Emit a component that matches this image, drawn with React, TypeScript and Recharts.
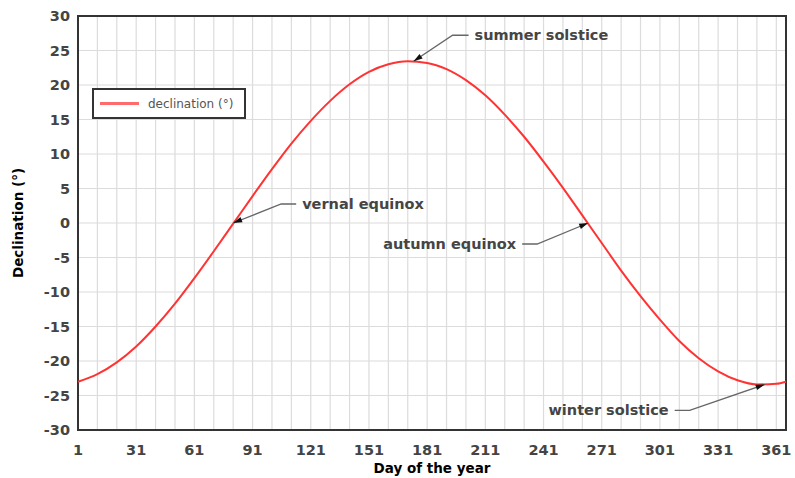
import React from 'react';
import { LineChart, Line, XAxis, YAxis, CartesianGrid, ReferenceArea, ReferenceDot, Legend } from 'recharts';

// day of the year and the sun's declination
const days = [1, 11, 21, 31, 41, 51, 61, 71, 81, 91, 101, 111, 121, 131, 141, 151, 161, 171, 181, 191, 201, 211, 221, 231, 241, 251, 261, 271, 281, 291, 301, 311, 321, 331, 341, 351, 361, 366];
const declination = [-23.0, -21.9, -20.2, -17.9, -15.0, -11.7, -8.0, -4.1, -0.1, 3.9, 7.8, 11.5, 14.8, 17.7, 20.1, 21.9, 23.0, 23.43, 23.2, 22.3, 20.7, 18.5, 15.7, 12.5, 8.9, 5.1, 1.1, -2.9, -6.9, -10.6, -14.0, -17.1, -19.6, -21.5, -22.8, -23.4, -23.3, -23.0];

const dayTicks = [1, 31, 61, 91, 121, 151, 181, 211, 241, 271, 301, 331, 361];
const gridDays = [1, 11, 21, 31, 41, 51, 61, 71, 81, 91, 101, 111, 121, 131, 141, 151, 161, 171, 181, 191, 201, 211, 221, 231, 241, 251, 261, 271, 281, 291, 301, 311, 321, 331, 341, 351, 361];
const declTicks = [-30, -25, -20, -15, -10, -5, 0, 5, 10, 15, 20, 25, 30];

const annotationLabels = ['vernal equinox', 'summer solstice', 'autumn equinox', 'winter solstice'];
const annotationDays = [81, 174, 264, 355];
const annotationValues = [0, 23.44, 0, -23.4];

// leader line offsets from the arrow tip (pixels)
const leaders = [
  { dx: 48, dy: -19, run: 15 },
  { dx: 39, dy: -26, run: 16 },
  { dx: -51, dy: 21, run: -15 },
  { dx: -75, dy: 26, run: -15 },
];

const data = days.map((day, i) => ({ day, declination: declination[i] }));

const FONT = '"DejaVu Sans", Verdana, sans-serif';

const makeArrow = (text: string, lead: { dx: number; dy: number; run: number }) => (props: any) => {
  const { cx, cy } = props;
  if (cx == null || cy == null) return <g />;
  const ex = cx + lead.dx;
  const ey = cy + lead.dy;
  const len = Math.hypot(lead.dx, lead.dy);
  const ux = -lead.dx / len;
  const uy = -lead.dy / len;
  const bx = cx - ux * 9;
  const by = cy - uy * 9;
  const px = -uy * 2.8;
  const py = ux * 2.8;
  const hx = ex + lead.run;
  const right = lead.run > 0;
  return (
    <g>
      <polyline points={`${cx},${cy} ${ex},${ey} ${hx},${ey}`} fill="none" stroke="#666" strokeWidth={1.3} />
      <polygon points={`${cx},${cy} ${bx + px},${by + py} ${bx - px},${by - py}`} fill="#111" />
      <text
        x={right ? hx + 6 : hx - 6}
        y={ey}
        textAnchor={right ? 'start' : 'end'}
        dominantBaseline="central"
        fontSize={14.5}
        fontWeight="bold"
        fill="#454545"
        fontFamily={FONT}
      >
        {text}
      </text>
    </g>
  );
};

const LegendBox = () => (
  <div
    style={{
      width: 154,
      height: 31,
      boxSizing: 'border-box',
      border: '2px solid #333',
      background: '#fff',
      display: 'flex',
      alignItems: 'center',
      fontFamily: FONT,
    }}
  >
    <div style={{ marginLeft: 6, width: 39, height: 3, background: '#ff6b6b' }} />
    <span style={{ marginLeft: 9, fontSize: 12, color: '#555' }}>declination (°)</span>
  </div>
);

export default function App() {
  return (
    <div style={{ position: 'absolute', left: 0, top: 0, width: 795, height: 478, background: '#fff' }}>
      <LineChart
        width={795}
        height={478}
        data={data}
        margin={{ top: 16, right: 9, left: 0, bottom: 0 }}
        style={{ fontFamily: FONT }}
      >
        <CartesianGrid stroke="#dcdcdc" strokeWidth={1.2} verticalValues={gridDays} />
        <XAxis
          dataKey="day"
          type="number"
          domain={[1, 366]}
          ticks={dayTicks}
          interval={0}
          height={48}
          tickLine={false}
          axisLine={false}
          tickMargin={9}
          tick={{ fill: '#444', fontSize: 14.5, fontWeight: 'bold' }}
          label={{ value: 'Day of the year', position: 'insideBottom', offset: 5, style: { fontWeight: 'bold', fontSize: 13.5, fill: '#000' } }}
        />
        <YAxis
          type="number"
          domain={[-30, 30]}
          ticks={declTicks}
          interval={0}
          width={78}
          tickLine={false}
          axisLine={false}
          tick={{ fill: '#444', fontSize: 14.5, fontWeight: 'bold' }}
          label={{ value: 'Declination (°)', angle: -90, position: 'insideLeft', offset: 18, style: { textAnchor: 'middle', fontWeight: 'bold', fontSize: 13.5, fill: '#000' } }}
        />
        <ReferenceArea x1={1} x2={366} y1={-30} y2={30} fill="none" stroke="#333" strokeWidth={2} />
        <Line
          type="monotone"
          dataKey="declination"
          stroke="#ff3333"
          strokeWidth={2}
          dot={false}
          isAnimationActive={false}
        />
        {annotationLabels.map((label, i) => (
          <ReferenceDot
            key={label}
            x={annotationDays[i]}
            y={annotationValues[i]}
            r={0}
            shape={makeArrow(label, leaders[i])}
          />
        ))}
        <Legend
          layout="horizontal"
          verticalAlign="middle"
          align="center"
          content={<LegendBox />}
          wrapperStyle={{ left: 92, top: 88, width: 154 }}
        />
      </LineChart>
    </div>
  );
}
